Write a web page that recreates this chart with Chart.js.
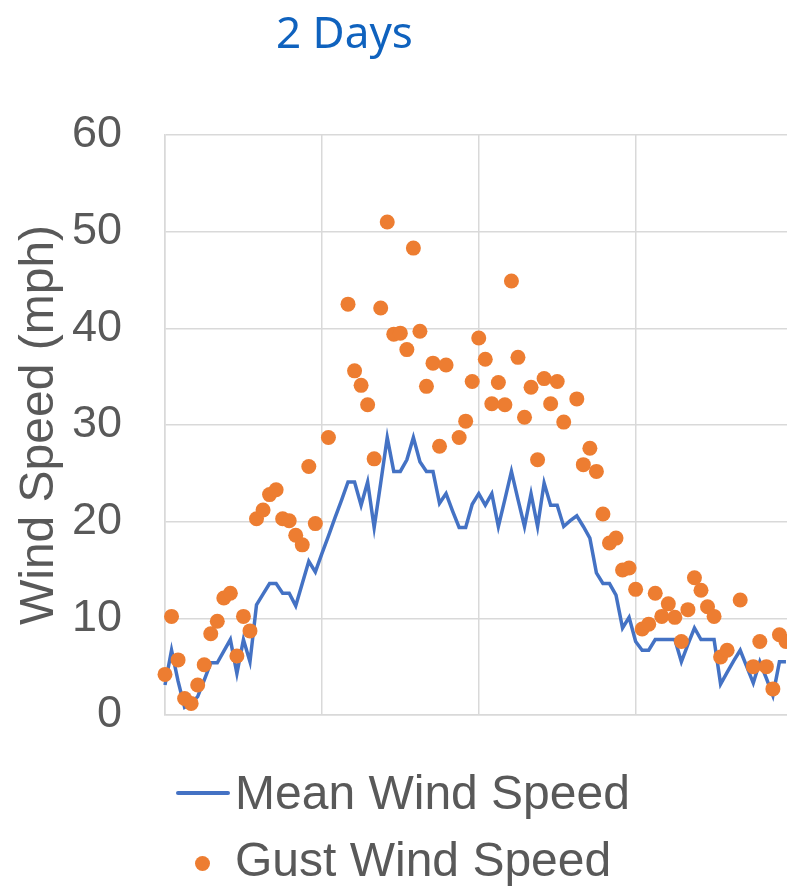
<!DOCTYPE html>
<html>
<head>
<meta charset="utf-8">
<script src="https://cdn.jsdelivr.net/npm/chart.js@4.4.1/dist/chart.umd.min.js"></script>
<style>
  html, body { margin: 0; padding: 0; overflow: hidden; background: #fff; }
  #wrap { position: relative; width: 800px; height: 886px; }
  #wind { position: absolute; left: 0; top: 0; }
  .title {
    position: absolute; left: 276px; top: 9px;
    font: 44px/44px "Noto Sans", sans-serif; color: #0F62BE; white-space: nowrap;
  }
  .key {
    position: absolute; left: 235px;
    font: 48px/48px "Liberation Sans", Arial, sans-serif; color: #595959; white-space: nowrap;
  }
  .swatch-line { position: absolute; left: 176px; top: 791px; width: 54px; height: 4px; border-radius: 2px; background: #4472C4; }
  .swatch-dot { position: absolute; left: 195px; top: 856px; width: 15px; height: 15px; border-radius: 50%; background: #ED7D31; }
</style>
</head>
<body>
<div id="wrap">
  <canvas id="wind"></canvas>
  <div class="title">2 Days</div>
  <div class="swatch-line"></div>
  <div class="key" style="top:769px">Mean Wind Speed</div>
  <div class="swatch-dot"></div>
  <div class="key" style="top:836px">Gust Wind Speed</div>
</div>
<script>
// half-hourly readings over two days (mph)
var meanSpeed = [
  3.1, 6.7, 3.5, 0.8, 1.2, 1.9, 3.6, 5.4, 5.4, 6.6,
  7.8, 4.3, 7.8, 5.5, 11.4, 12.5, 13.6, 13.6, 12.6, 12.6,
  11.3, 13.6, 15.9, 14.8, 16.7, 18.5, 20.4, 22.2, 24.1, 24.1,
  21.7, 24.1, 19.4, 24.0, 28.7, 25.2, 25.2, 26.4, 28.7, 26.2,
  25.2, 25.2, 21.9, 22.9, 21.1, 19.4, 19.4, 21.8, 22.9, 21.7,
  22.9, 19.5, 22.3, 25.2, 22.3, 19.5, 22.9, 19.5, 24.0, 21.7,
  21.7, 19.5, 20.1, 20.6, 19.5, 18.3, 14.7, 13.6, 13.6, 12.4,
  9.0, 10.1, 7.6, 6.7, 6.7, 7.8, 7.8, 7.8, 7.8, 5.5,
  7.3, 9.0, 7.8, 7.8, 7.8, 3.2, 4.4, 5.6, 6.7, 5.0,
  3.3, 5.5, 3.8, 2.0, 5.5, 5.5
];
var gustSpeed = [
  4.2, 10.2, 5.7, 1.7, 1.2, 3.1, 5.2, 8.4, 9.7, 12.1,
  12.6, 6.1, 10.2, 8.7, 20.3, 21.2, 22.8, 23.3, 20.3, 20.1,
  18.6, 17.6, 25.7, 19.8, null, 28.7, null, null, 42.5, 35.6,
  34.1, 32.1, 26.5, 42.1, 51.0, 39.4, 39.5, 37.8, 48.3, 39.7,
  34.0, 36.4, 27.8, 36.2, null, 28.7, 30.4, 34.5, 39.0, 36.8,
  32.2, 34.4, 32.1, 44.9, 37.0, 30.8, 33.9, 26.4, 34.8, 32.2,
  34.5, 30.3, null, 32.7, 25.9, 27.6, 25.2, 20.8, 17.8, 18.3,
  15.0, 15.2, 13.0, 8.9, 9.4, 12.6, 10.2, 11.5, 10.1, 7.6,
  10.9, 14.2, 12.9, 11.2, 10.2, 6.0, 6.7, null, 11.9, null,
  5.0, 7.6, 5.0, 2.7, 8.3, 7.6
];
var yTicks = [0, 10, 20, 30, 40, 50, 60];
var hoursPerReading = 0.5;

function toPoints(values) {
  return values
    .map(function (v, i) { return { x: i * hoursPerReading, y: v }; })
    .filter(function (p) { return p.y !== null; });
}

var grey = '#595959';
var gridColor = '#D9D9D9';

new Chart(document.getElementById('wind').getContext('2d'), {
  type: 'scatter',
  data: {
    datasets: [
      {
        label: 'Gust Wind Speed',
        data: toPoints(gustSpeed),
        pointRadius: 7.5,
        pointBorderWidth: 0,
        pointBackgroundColor: '#ED7D31',
        clip: false
      },
      {
        label: 'Mean Wind Speed',
        data: toPoints(meanSpeed),
        showLine: true,
        borderColor: '#4472C4',
        borderWidth: 3.5,
        pointRadius: 0,
        tension: 0,
        clip: false
      }
    ]
  },
  options: {
    responsive: true,
    maintainAspectRatio: false,
    animation: false,
    events: [],
    layout: { padding: { top: 135, right: 7, bottom: 171, left: 0 } },
    plugins: { legend: { display: false }, tooltip: { enabled: false } },
    scales: {
      x: {
        type: 'linear', min: 0, max: 48,
        ticks: { display: false, stepSize: 12 },
        grid: { color: gridColor, lineWidth: 1.5, drawTicks: false },
        border: { color: gridColor, width: 1.5 },
        afterFit: function (s) { s.height = 0; }
      },
      y: {
        min: 0, max: 60,
        afterBuildTicks: function (s) { s.ticks = yTicks.map(function (v) { return { value: v }; }); },
        ticks: { color: grey, padding: 43, font: { family: '"Liberation Sans", Arial', size: 45 } },
        grid: { color: gridColor, lineWidth: 1.5, drawTicks: false },
        border: { color: gridColor, width: 1.5 },
        title: {
          display: true, text: 'Wind Speed (mph)', color: grey,
          font: { family: '"Liberation Sans", Arial', size: 48, lineHeight: 1.2 },
          padding: { top: 11, bottom: 0 }
        },
        afterFit: function (s) { s.width = 165; }
      }
    }
  }
});
</script>
</body>
</html>
